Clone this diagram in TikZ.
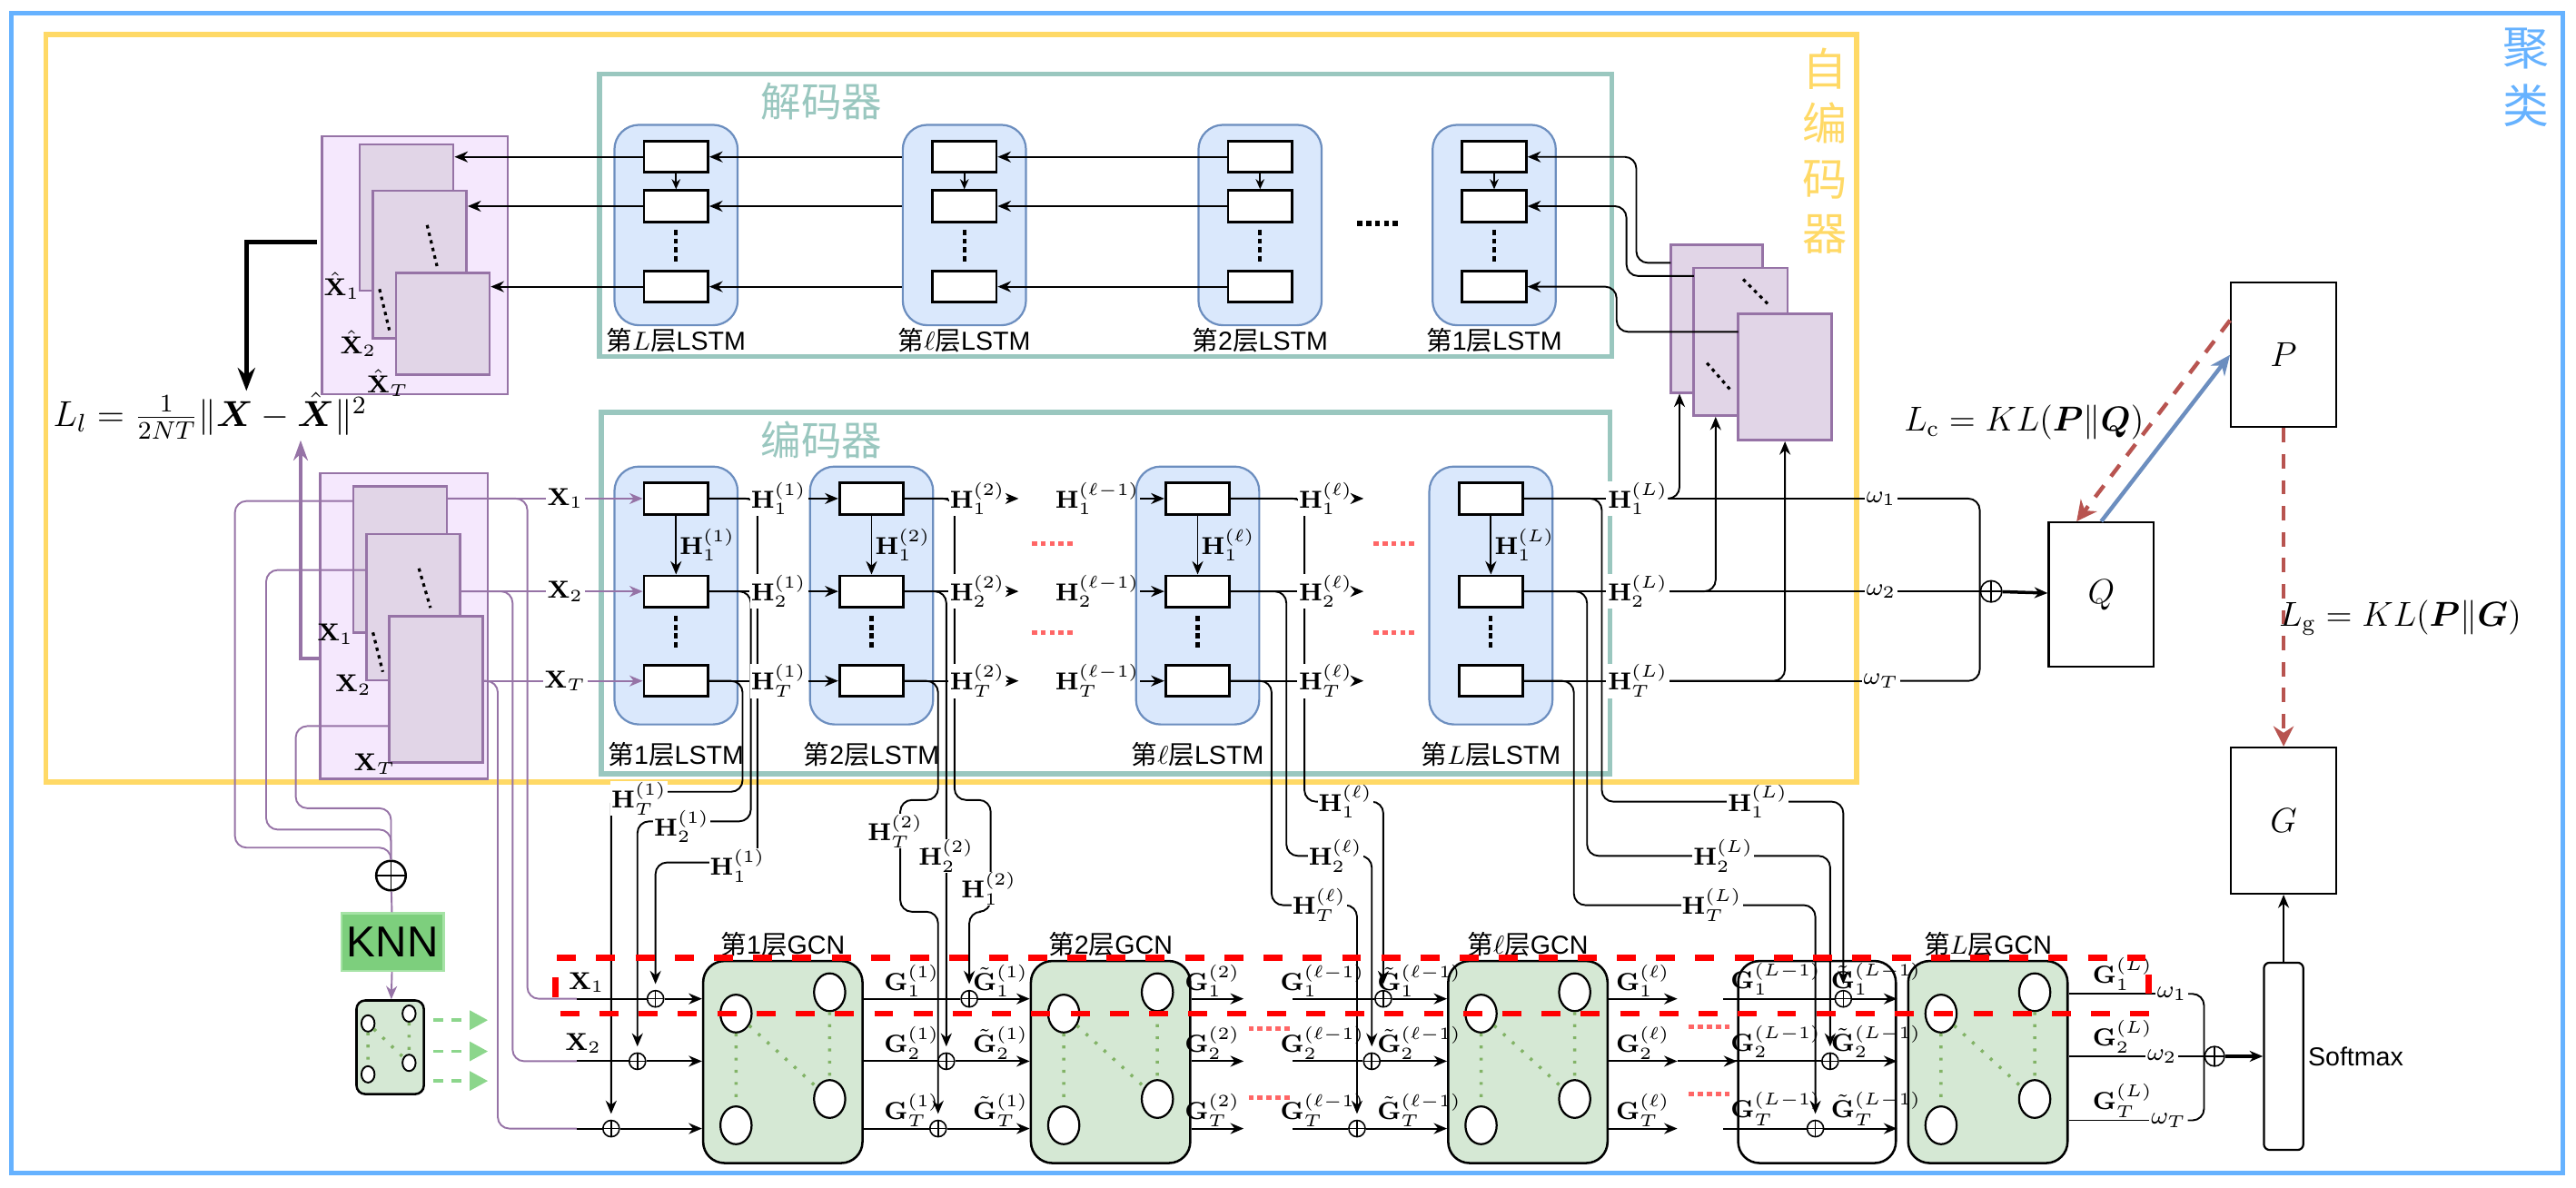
\RequirePackage{fix-cm}
\documentclass[tikz,border=0pt]{standalone}
\usepackage{amsmath}
\usepackage[no-math]{fontspec}
\setmainfont{Liberation Sans}
\newfontfamily\cjk{Noto Sans CJK SC}
\usetikzlibrary{arrows.meta,shapes.geometric,positioning}

\definecolor{cluster}{HTML}{66B2FF}
\definecolor{autoenc}{HTML}{FFD966}
\definecolor{codec}{HTML}{9AC7BF}
\definecolor{lstmfill}{HTML}{DAE8FC}
\definecolor{lstmline}{HTML}{6C8EBF}
\definecolor{seqline}{HTML}{9673A6}
\definecolor{seqfill}{HTML}{E1D5E7}
\definecolor{seqback}{HTML}{F5E8FD}
\definecolor{gcnfill}{HTML}{D5E8D4}
\definecolor{gcndot}{HTML}{82B366}
\definecolor{knnfill}{HTML}{7DCF7D}
\definecolor{knnline}{HTML}{A6E3A6}
\definecolor{knnarrow}{HTML}{8CD68C}
\definecolor{lossred}{HTML}{B85450}
\definecolor{dotred}{HTML}{FF6666}

\newcommand\uu{0.02cm}
\newcommand\zh[1]{{\cjk #1}}

\begin{document}
\begin{tikzpicture}[x=\uu,y=-\uu,line width=0.6pt,
  >={Stealth[length=4.6pt,width=3.8pt]},
  lstmcol/.style={draw=lstmline,fill=lstmfill,line width=0.7pt,rounded corners=0.3cm,minimum width=75*\uu,inner sep=0pt},
  lstmcell/.style={draw,fill=white,line width=0.9pt,minimum width=39*\uu,minimum height=19*\uu,inner sep=0pt},
  vdots/.style={line width=1.3pt,dash pattern=on 1.8pt off 1.2pt},
  sdots/.style={line width=1pt,dash pattern=on 1.2pt off 1.5pt},
  reddots/.style={dotred,line width=1.7pt,dash pattern=on 1.8pt off 1.3pt},
  seqwire/.style={draw=seqline,line width=0.6pt},
  seqframe/.style={draw=seqline,fill=seqfill,line width=0.8pt,inner sep=0pt},
  stackbox/.style={draw=seqline,fill=seqback,line width=0.8pt,inner sep=0pt},
  hlbl/.style={fill=white,inner sep=0.3pt,font=\fontsize{8.5}{9}\selectfont},
  glbl/.style={inner sep=0pt,font=\fontsize{8.5}{9}\selectfont},
  layerlbl/.style={inner sep=0pt,font=\fontsize{9}{10}\selectfont},
  plusnode/.style={circle,draw,fill=white,inner sep=0pt,minimum size=10*\uu,line width=0.5pt,
    path picture={\draw[line width=0.5pt] (path picture bounding box.north) -- (path picture bounding box.south)
      (path picture bounding box.west) -- (path picture bounding box.east);}},
  gcn/.style={draw,fill=gcnfill,rounded corners=0.26cm,line width=0.8pt,minimum width=97*\uu,minimum height=123*\uu,inner sep=0pt},
  gnode/.style={ellipse,draw,fill=white,line width=0.7pt,minimum width=19*\uu,minimum height=23*\uu,inner sep=0pt},
  knode/.style={ellipse,draw,fill=white,line width=0.6pt,minimum width=8*\uu,minimum height=10*\uu,inner sep=0pt},
  gdots/.style={gcndot,line width=1.1pt,dash pattern=on 1pt off 3.2pt},
  outbox/.style={draw,line width=0.7pt,inner sep=0pt,font=\fontsize{12}{14}\selectfont},
  wirecurve/.style={rounded corners=4pt},
  redbox/.style={red,line width=2.1pt,dash pattern=on 6.6pt off 7pt},
  knnlink/.style={knnarrow,line width=1.2pt,dash pattern=on 3.4pt off 2.8pt,-{Triangle[length=6.3pt,width=6.5pt]}}]

\useasboundingbox (0,0) rectangle (1568,723);

% frames
\draw[cluster,line width=1.7pt] (7,8) rectangle (1560,714);
\draw[autoenc,line width=1.7pt] (28,21) rectangle (1130,476);
\draw[codec,line width=1.7pt] (365,45) rectangle (981,217);
\draw[codec,line width=1.7pt] (366,251) rectangle (980,471);
\node[text=cluster,font=\cjk\fontsize{16}{20}\selectfont,align=center,inner sep=0pt] (cluslbl) at (1537.5,47) {聚\\类};
\node[text=autoenc,font=\cjk\fontsize{15.5}{19}\selectfont,align=center,inner sep=0pt] (aelbl) at (1111,92) {自\\编\\码\\器};
\node[text=codec,font=\cjk\fontsize{14}{16}\selectfont,inner sep=0pt] (declbl) at (500,62) {解码器};
\node[text=codec,font=\cjk\fontsize{14}{16}\selectfont,inner sep=0pt] (enclbl) at (500,268) {编码器};

% decoder
\foreach \col/\x/\nm in {L/411.5/$L$, l/587/$\ell$, 2/767/2, 1/909.5/1}{
  \node[lstmcol,minimum height=122*\uu] (dcol\col) at (\x,137) {};
  \node[lstmcell] (d\col a) at (\x,95.5) {};
  \node[lstmcell] (d\col b) at (\x,125.5) {};
  \node[lstmcell] (d\col c) at (\x,174.5) {};
  \draw[-{Stealth[length=3.5pt,width=3pt]}] (d\col a) -- (d\col b);
  \draw[vdots] (\x,140) -- (\x,160);
  \node[layerlbl] (dname\col) at (\x,207) {\zh{第}\nm\zh{层}LSTM};
}
\foreach \rw in {a,b,c}{
  \draw[->] (dcoll.west |- dl\rw) -- (dL\rw);
  \draw[->] (d2\rw) -- (dl\rw);
}
\draw[line width=1.7pt,dash pattern=on 1.8pt off 1.3pt] (826,136) -- (853,136);

% reconstructed sequence
\node[stackbox,minimum width=113*\uu,minimum height=157*\uu] (hstack) at (252.5,161.5) {};
\node[seqframe,minimum width=57*\uu,minimum height=89*\uu] (hf1) at (247.5,132.5) {};
\node[seqframe,minimum width=57*\uu,minimum height=90*\uu] (hf2) at (255.5,161) {};
\node[seqframe,minimum width=57*\uu,minimum height=62*\uu] (hf3) at (269.5,197) {};
\draw[sdots] (260,137) -- (266,162) (231,176) -- (237,201);
\node[glbl] (hx1) at (208,174) {$\hat{\mathbf{X}}_1$};
\node[glbl] (hx2) at (218,209) {$\hat{\mathbf{X}}_2$};
\node[glbl] (hxT) at (236,233) {$\hat{\mathbf{X}}_T$};
\draw[->] (dLa) -- (hf1.east |- dLa);
\draw[->] (dLb) -- (hf2.east |- dLb);
\draw[->] (dLc) -- (hf3.east |- dLc);

% reconstruction loss
\coordinate (hsrc) at (193,147.5);
\coordinate (htip) at (150,238);
\draw[line width=1.5pt,-{Stealth[length=8pt,width=6pt]}] (hsrc) -| (htip);
\node[font=\fontsize{12.5}{14}\selectfont,inner sep=0pt] (lossl) at (128,253) {$L_l=\frac{1}{2NT}\|\boldsymbol{X}-\hat{\boldsymbol{X}}\|^2$};

% encoder
\foreach \col/\x/\nm/\mm in {1/411.5/1/1, 2/530.5/2/2, l/729/$\ell$/\ell, L/907.5/$L$/L}{
  \node[lstmcol,minimum height=157*\uu] (ecol\col) at (\x,362.5) {};
  \node[lstmcell] (e\col1) at (\x,303.5) {};
  \node[lstmcell] (e\col2) at (\x,360) {};
  \node[lstmcell] (e\col T) at (\x,414.5) {};
  \draw[->] (e\col1) -- node[glbl,right=1pt] (ev\col) {$\mathbf{H}_1^{(\mm)}$} (e\col2);
  \draw[vdots] (\x,375) -- (\x,394);
  \node[layerlbl] (ename\col) at (\x,459) {\zh{第}\nm\zh{层}LSTM};
}
\draw[reddots] (628,331) -- (655,331) (628,385) -- (655,385);
\draw[reddots] (836,331) -- (862,331) (836,385) -- (862,385);

% input sequence
\node[stackbox,minimum width=102*\uu,minimum height=186*\uu] (xstack) at (246,381) {};
\node[seqframe,minimum width=57*\uu,minimum height=89*\uu] (xf1) at (243.5,340.5) {};
\node[seqframe,minimum width=57*\uu,minimum height=89*\uu] (xf2) at (251.5,369.5) {};
\node[seqframe,minimum width=57*\uu,minimum height=89*\uu] (xf3) at (265.5,419.5) {};
\draw[sdots] (255,346) -- (262,370) (227,385) -- (233,409);
\node[glbl] (xn1) at (204,386) {$\mathbf{X}_1$};
\node[glbl] (xn2) at (215,417) {$\mathbf{X}_2$};
\node[glbl] (xnT) at (228,465) {$\mathbf{X}_T$};
\coordinate (xsrc) at (195,401);
\coordinate (xtip) at (183,268);
\draw[seqline,line width=1.2pt,-{Stealth[length=7pt,width=5pt]}] (xsrc) -| (xtip);

% latent sequence
\node[seqframe,minimum width=56*\uu,minimum height=90*\uu] (zf1) at (1045,194) {};
\node[seqframe,minimum width=57*\uu,minimum height=90*\uu] (zf2) at (1059.5,208) {};
\node[seqframe,minimum width=57*\uu,minimum height=77*\uu] (zf3) at (1086.5,229.5) {};
\draw[sdots] (1061,170) -- (1076,185) (1039,221) -- (1053,237);
\coordinate (zin1) at (1017,160);
\coordinate (zin2) at (1031,168);
\coordinate (zin3) at (1058,202);
\draw[->,wirecurve] (zin1) -- (996,160) |- (d1a);
\draw[->,wirecurve] (zin2) -- (990,168) |- (d1b);
\draw[->,wirecurve] (zin3) -- (984,202) |- (d1c);

% GCN layers
\foreach \g/\x/\nm in {1/476.5/1, 2/676/2, l/930/$\ell$, L/1210/$L$}{
  \node[gcn] (g\g) at (\x,646.5) {};
  \node[gnode] (g\g n1) at (\x-28.5,617) {};
  \node[gnode] (g\g n2) at (\x+28.5,604) {};
  \node[gnode] (g\g n3) at (\x+28.5,669) {};
  \node[gnode] (g\g n4) at (\x-28.5,685) {};
  \draw[gdots] (g\g n1) -- (g\g n4) (g\g n2) -- (g\g n3) (g\g n1) -- (g\g n3);
  \node[layerlbl] (gname\g) at (\x,575) {\zh{第}\nm\zh{层}GCN};
}
\node[draw,rounded corners=0.26cm,line width=0.8pt,minimum width=96*\uu,minimum height=123*\uu] (gLm) at (1106,646.5) {};

\foreach \rw/\y/\xa/\xb/\xc/\xd in {1/608/399/590/842/1122, 2/646/388/576/835/1114, T/687/372/571/826/1105}{
  \node[plusnode] (o1\rw) at (\xa,\y) {};
  \node[plusnode] (o2\rw) at (\xb,\y) {};
  \node[plusnode] (ol\rw) at (\xc,\y) {};
  \node[plusnode] (oL\rw) at (\xd,\y) {};
  \coordinate (gin\rw) at (351,\y);
  \coordinate (g2out\rw) at (757,\y);
  \coordinate (glin\rw) at (787,\y);
  \coordinate (glout\rw) at (1021,\y);
  \coordinate (gLin\rw) at (1049,\y);
  \draw (gin\rw) -- (o1\rw);
  \draw[->] (o1\rw) -- (o1\rw -| g1.west);
  \draw (g1.east |- o1\rw) -- (o2\rw);
  \draw[->] (o2\rw) -- (o2\rw -| g2.west);
  \draw[->] (g2.east |- o2\rw) -- (g2out\rw);
  \draw (glin\rw) -- (ol\rw);
  \draw[->] (ol\rw) -- (ol\rw -| gl.west);
  \draw[->] (gl.east |- ol\rw) -- (glout\rw);
  \draw (gLin\rw) -- (oL\rw);
  \draw[->] (oL\rw) -- (oL\rw -| gLm.east);
  \node[glbl] (ga\rw) at (555,\y-11) {$\mathbf{G}_\rw^{(1)}$};
  \node[glbl] (gta\rw) at (609,\y-11) {$\tilde{\mathbf{G}}_\rw^{(1)}$};
  \node[glbl] (gb\rw) at (738,\y-11) {$\mathbf{G}_\rw^{(2)}$};
  \node[glbl] (gc\rw) at (805,\y-11) {$\mathbf{G}_\rw^{(\ell-1)}$};
  \node[glbl] (gtc\rw) at (864,\y-11) {$\tilde{\mathbf{G}}_\rw^{(\ell-1)}$};
  \node[glbl] (gd\rw) at (1000,\y-11) {$\mathbf{G}_\rw^{(\ell)}$};
  \node[glbl] (ge\rw) at (1081,\y-12) {$\mathbf{G}_\rw^{(L-1)}$};
  \node[glbl] (gte\rw) at (1142,\y-12) {$\tilde{\mathbf{G}}_\rw^{(L-1)}$};
}
\draw[->] (glout2) -- (gLm.west |- glout2);
\draw[reddots] (760,626) -- (786,626) (760,668) -- (786,668);
\draw[reddots] (1028,625) -- (1054,625) (1028,666) -- (1054,666);

% input sequence into encoder and GCN
\draw[seqwire,wirecurve] (xf1.east |- e11) -- (321,303.5) -- (321,608) -- (gin1);
\draw[seqwire,wirecurve] (xf2.east |- e12) -- (312,360) -- (312,646) -- (gin2);
\draw[seqwire,wirecurve] (xf3.east |- e1T) -- (303,414.5) -- (303,687) -- (ginT);
\node[glbl] (gx1) at (357,598) {$\mathbf{X}_1$};
\node[glbl] (gx2) at (355,635) {$\mathbf{X}_2$};

% hidden states handed down to the GCN
\draw[->,wirecurve,shorten >=2pt] (e11.east) -- (461,303.5) -- (461,525) -- (399,525) -- (o11);
\draw[->,wirecurve,shorten >=2pt] (e12.east) -- (457,360) -- (457,500) -- (388,500) -- (o12);
\draw[->,wirecurve,shorten >=2pt] (e1T.east) -- (452,414.5) -- (452,482) -- (372,482) -- (o1T);
\draw[->,wirecurve,shorten >=2pt] (e21.east) -- (581,303.5) -- (581,487) -- (603,487) -- (603,555) -- (590,555) -- (o21);
\draw[->,wirecurve,shorten >=2pt] (e22.east) -- (576,360) -- (o22);
\draw[->,wirecurve,shorten >=2pt] (e2T.east) -- (571,414.5) -- (571,487) -- (548,487) -- (548,555) -- (571,555) -- (o2T);
\draw[->,wirecurve,shorten >=2pt] (el1.east) -- (794,303.5) -- (794,488) -- (842,488) -- (ol1);
\draw[->,wirecurve,shorten >=2pt] (el2.east) -- (783,360) -- (783,521) -- (835,521) -- (ol2);
\draw[->,wirecurve,shorten >=2pt] (elT.east) -- (774,414.5) -- (774,551) -- (826,551) -- (olT);
\draw[->,wirecurve,shorten >=2pt] (eL1.east) -- (975,303.5) -- (975,488) -- (1122,488) -- (oL1);
\draw[->,wirecurve,shorten >=2pt] (eL2.east) -- (966,360) -- (966,521) -- (1114,521) -- (oL2);
\draw[->,wirecurve,shorten >=2pt] (eLT.east) -- (958,414.5) -- (958,551) -- (1105,551) -- (oLT);
\node[hlbl] (va1) at (449,527) {$\mathbf{H}_1^{(1)}$};
\node[hlbl] (va2) at (415,503) {$\mathbf{H}_2^{(1)}$};
\node[hlbl] (vaT) at (389,486) {$\mathbf{H}_T^{(1)}$};
\node[hlbl] (vb1) at (602,541) {$\mathbf{H}_1^{(2)}$};
\node[hlbl] (vb2) at (576,521) {$\mathbf{H}_2^{(2)}$};
\node[hlbl] (vbT) at (545,506) {$\mathbf{H}_T^{(2)}$};
\node[hlbl] (vc1) at (819,488) {$\mathbf{H}_1^{(\ell)}$};
\node[hlbl] (vc2) at (813,521) {$\mathbf{H}_2^{(\ell)}$};
\node[hlbl] (vcT) at (803,551) {$\mathbf{H}_T^{(\ell)}$};
\node[hlbl] (vd1) at (1070,488) {$\mathbf{H}_1^{(L)}$};
\node[hlbl] (vd2) at (1049,521) {$\mathbf{H}_2^{(L)}$};
\node[hlbl] (vdT) at (1042,551) {$\mathbf{H}_T^{(L)}$};

% encoder rows
\foreach \rw/\y/\f in {1/303.5/1, 2/360/2, T/414.5/3}{
  \node[hlbl] (xin\rw) at (344,\y) {$\mathbf{X}_\rw$};
  \draw[seqwire] (xf\f.east |- e1\rw) -- (xin\rw);
  \draw[seqwire,->] (xin\rw) -- (e1\rw);
  \node[hlbl] (ha\rw) at (474,\y) {$\mathbf{H}_\rw^{(1)}$};
  \draw (e1\rw) -- (ha\rw);
  \draw[->] (ha\rw) -- (e2\rw);
  \node[hlbl] (hb\rw) at (595,\y) {$\mathbf{H}_\rw^{(2)}$};
  \coordinate (hbend\rw) at (620,\y);
  \draw (e2\rw) -- (hb\rw);
  \draw[->] (hb\rw) -- (hbend\rw);
  \node[glbl] (hc\rw) at (668,\y) {$\mathbf{H}_\rw^{(\ell-1)}$};
  \draw[->] (hc\rw) -- (el\rw);
  \node[hlbl] (hd\rw) at (807,\y) {$\mathbf{H}_\rw^{(\ell)}$};
  \coordinate (hdend\rw) at (830,\y);
  \draw (el\rw) -- (hd\rw);
  \draw[->] (hd\rw) -- (hdend\rw);
  \node[hlbl] (he\rw) at (997,\y) {$\mathbf{H}_\rw^{(L)}$};
  \node[hlbl] (qw\rw) at (1145,\y) {$\omega_\rw$};
  \draw (eL\rw) -- (he\rw) -- (qw\rw);
}
\draw[->,wirecurve] (he1.east) -| ([xshift=6*\uu]zf1.south west);
\draw[->,wirecurve] (he2.east) -| ([xshift=14*\uu]zf2.south west);
\draw[->,wirecurve] (heT.east) -| (zf3.south);

% clustering
\node[outbox,minimum width=64*\uu,minimum height=88*\uu] (Q) at (1279,362) {$Q$};
\node[outbox,minimum width=64*\uu,minimum height=88*\uu] (P) at (1390,216) {$P$};
\node[outbox,minimum width=64*\uu,minimum height=89*\uu] (G) at (1390,499.5) {$G$};
\node[plusnode,minimum size=13*\uu] (qsum) at (1212,360) {};
\draw[wirecurve] (qw1) -| (qsum.west);
\draw (qw2) -- (qsum);
\draw[wirecurve] (qwT) -| (qsum.west);
\draw[->,line width=1.1pt] (qsum) -- (Q);
\draw[lstmline,line width=1.4pt,-{Stealth[length=7pt,width=6pt]}] (Q.north) -- (P.west);
\draw[lossred,line width=1.4pt,dash pattern=on 5pt off 4pt,-{Stealth[length=7pt,width=7pt]}] ([yshift=21*\uu]P.west) -- ([xshift=-15*\uu]Q.north);
\draw[lossred,line width=1.4pt,dash pattern=on 5pt off 4pt,-{Stealth[length=7pt,width=7pt]}] (P.south) -- (G.north);
\node[font=\fontsize{12}{14}\selectfont,inner sep=0pt] (lc) at (1232,257) {$L_{\mathrm{c}}=KL(\boldsymbol{P}\|\boldsymbol{Q})$};
\node[font=\fontsize{12}{14}\selectfont,inner sep=0pt] (lg) at (1461,376) {$L_{\mathrm{g}}=KL(\boldsymbol{P}\|\boldsymbol{G})$};

% softmax
\node[draw,rounded corners=2pt,line width=0.7pt,minimum width=24*\uu,minimum height=114*\uu,inner sep=0pt] (soft) at (1390,643) {};
\node[layerlbl,right=1pt of soft] (softlbl) {Softmax};
\node[plusnode,minimum size=12*\uu] (fsum) at (1348,643) {};
\foreach \rw/\y/\xw in {1/605/1322, 2/643/1316, T/682/1320}{
  \node[glbl] (gf\rw) at (1292,\y-12) {$\mathbf{G}_\rw^{(L)}$};
  \node[hlbl] (fw\rw) at (\xw,\y) {$\omega_\rw$};
  \draw (gL.east |- fw\rw) -- (fw\rw);
}
\draw[wirecurve] (fw1) -| (fsum.west);
\draw (fw2) -- (fsum);
\draw[wirecurve] (fwT) -| (fsum.west);
\draw[->,line width=1.1pt] (fsum) -- (soft);
\draw[->] (soft) -- (G);

% KNN graph
\node[plusnode,minimum size=18*\uu,line width=0.8pt] (knnsum) at (238,533) {};
\coordinate (xk1) at (215,305);
\coordinate (xk2) at (223,347);
\coordinate (xk3) at (237,442);
\draw[seqwire,wirecurve] (xk1) -- (143,305) -- (143,516) -- (238,516) -- (knnsum);
\draw[seqwire,wirecurve] (xk2) -- (162,347) -- (162,505) -- (238,505) -- (knnsum);
\draw[seqwire,wirecurve] (xk3) -- (180,442) -- (180,492) -- (238,492) -- (knnsum);
\node[draw=knnline,fill=knnfill,line width=0.8pt,minimum width=62*\uu,minimum height=35*\uu,inner sep=0pt,font=\fontsize{15}{16}\selectfont] (knn) at (239,573.5) {KNN};
\node[draw,fill=gcnfill,rounded corners=3pt,line width=0.8pt,minimum width=41*\uu,minimum height=57*\uu] (kgraph) at (237.5,637.5) {};
\node[knode] (kn1) at (224,623) {};
\node[knode] (kn2) at (249,617) {};
\node[knode] (kn3) at (249,647) {};
\node[knode] (kn4) at (224,654) {};
\draw[gdots] (kn1) -- (kn4) (kn2) -- (kn3) (kn1) -- (kn3);
\draw[seqwire] (knnsum) -- (knn);
\draw[seqwire,->] (knn) -- (kgraph);
\foreach \k/\y in {1/621, 2/640, 3/658}{
  \coordinate (ks\k) at (264,\y);
  \coordinate (ke\k) at (297,\y);
  \draw[knnlink] (ks\k) -- (ke\k);
}

% graph split marker
\draw[redbox] (339,583) -- (1306,583);
\draw[redbox] (341,617) -- (1310,617);
\draw[red,line width=2.1pt] (338,595) -- (338,607) (1308,593) -- (1308,605);
\end{tikzpicture}
\end{document}
